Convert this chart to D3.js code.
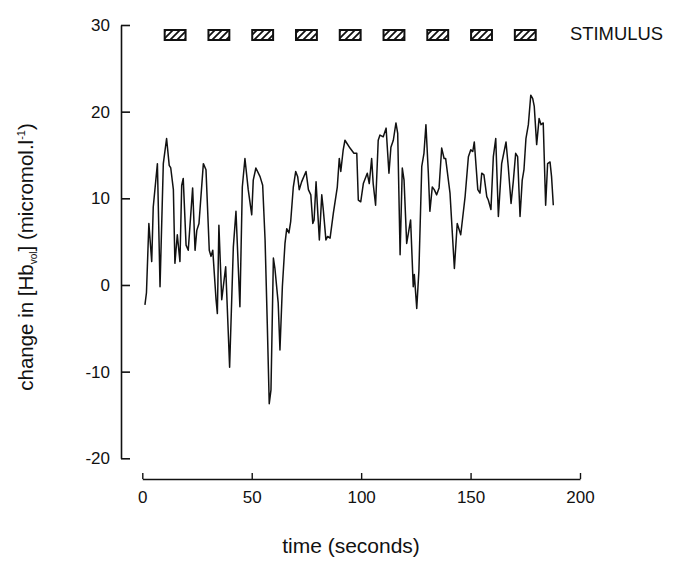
<!DOCTYPE html>
<html>
<head>
<meta charset="utf-8">
<script src="https://cdn.jsdelivr.net/npm/d3@7"></script>
<style>
  html, body { margin: 0; padding: 0; background: #fff; }
  svg { display: block; }
  text { font-family: "Liberation Sans", Arial, sans-serif; fill: #111; }
</style>
</head>
<body>
<svg id="chart" width="685" height="569"></svg>
<script>
// ---- data ----
const times = [1.2, 1.9, 3.0, 4.3, 5.0, 6.9, 8.1, 9.6, 11.1, 12.3, 13.0, 14.2, 14.9, 16.0, 17.2, 18.0, 18.7, 20.0, 21.0, 23.0, 24.1, 24.9, 25.9, 27.9, 29.1, 30.6, 31.4, 32.2, 33.7, 34.3, 35.0, 36.3, 38.1, 39.9, 41.6, 42.8, 44.6, 45.7, 46.9, 48.4, 50.0, 50.7, 51.9, 53.8, 55.0, 56.1, 57.1, 58.0, 58.8, 59.9, 60.6, 62.1, 62.9, 64.0, 65.2, 66.0, 67.0, 67.8, 69.0, 70.1, 71.0, 71.7, 72.8, 74.8, 75.9, 77.0, 77.9, 78.5, 79.4, 80.1, 80.9, 82.0, 82.7, 83.9, 84.7, 85.8, 87.3, 89.1, 90.0, 90.7, 91.8, 92.6, 94.9, 96.7, 98.0, 98.7, 99.8, 101.0, 102.8, 103.7, 104.8, 105.5, 106.6, 107.8, 108.6, 110.1, 111.4, 112.7, 113.6, 114.7, 115.9, 116.7, 117.8, 118.8, 119.6, 120.8, 122.6, 123.8, 124.3, 125.4, 126.4, 127.7, 128.7, 129.6, 130.7, 131.4, 132.5, 133.4, 134.5, 135.6, 136.8, 137.9, 138.6, 140.6, 142.6, 143.9, 145.5, 147.5, 149.0, 150.1, 151.0, 151.7, 153.3, 154.3, 155.1, 156.1, 157.4, 158.1, 159.3, 160.4, 161.5, 162.7, 164.2, 166.2, 167.2, 168.5, 169.5, 170.6, 171.5, 172.6, 173.6, 174.4, 175.3, 176.4, 177.5, 178.4, 179.1, 180.2, 181.3, 182.2, 183.2, 184.3, 185.2, 186.3, 187.0, 187.8];
const hbValues = [-2.3, -0.9, 7.1, 2.7, 9.0, 14.0, -0.2, 14.0, 16.9, 13.8, 13.5, 11.0, 2.5, 5.8, 2.7, 11.5, 12.3, 4.6, 4.0, 11.2, 4.0, 6.3, 7.1, 14.0, 13.3, 4.0, 3.3, 4.0, -1.7, -3.3, 6.9, -1.7, 2.1, -9.5, 4.4, 8.5, -2.5, 11.3, 14.6, 11.0, 8.1, 12.1, 13.5, 12.5, 11.5, 5.2, -4.4, -13.7, -12.1, 3.1, 1.9, -2.1, -7.5, -0.2, 4.8, 6.5, 6.0, 7.3, 11.3, 13.1, 12.5, 11.0, 11.9, 13.1, 11.0, 10.4, 7.1, 7.5, 11.9, 8.7, 5.2, 10.4, 8.7, 5.2, 5.6, 5.4, 8.3, 11.3, 14.6, 13.1, 15.6, 16.7, 15.8, 15.2, 15.2, 9.8, 9.6, 11.7, 12.9, 11.7, 14.6, 11.7, 9.2, 16.7, 17.3, 17.1, 18.1, 12.9, 15.9, 16.7, 18.7, 17.5, 3.5, 13.5, 12.1, 4.8, 7.5, -0.2, 1.2, -2.7, 1.7, 13.7, 15.2, 18.5, 12.9, 8.5, 11.3, 11.0, 10.4, 11.2, 15.8, 14.6, 14.6, 10.6, 1.9, 7.1, 5.8, 10.2, 14.8, 15.6, 15.4, 16.5, 11.0, 10.6, 12.9, 12.7, 10.2, 9.8, 8.7, 14.8, 16.9, 7.9, 14.0, 16.5, 13.7, 9.4, 11.9, 15.2, 14.8, 7.9, 12.1, 13.3, 16.9, 18.5, 21.9, 21.5, 20.6, 16.2, 19.2, 18.5, 18.7, 9.2, 14.0, 14.2, 12.5, 9.2];
const stimulusStarts = [10, 30, 50, 70, 90, 110, 130, 150, 170];
const stimulusEnds   = [20, 40, 60, 80, 100, 120, 140, 160, 180];
const xTicks = [0, 50, 100, 150, 200];
const yTicks = [-20, -10, 0, 10, 20, 30];
const stimulusLabel = "STIMULUS";
const xLabel = "time (seconds)";

// ---- layout ----
const svg = d3.select("#chart");
const x = d3.scaleLinear().domain([0, 200]).range([142.3, 580]);
const y = d3.scaleLinear().domain([-20, 30]).range([458.3, 25]);
const yAxisX = 121;
const xAxisY = 479;
const FONT = "Liberation Sans, Arial, sans-serif";

// hatch pattern
const defs = svg.append("defs");
const pat = defs.append("pattern")
  .attr("id", "hatch").attr("patternUnits", "userSpaceOnUse")
  .attr("width", 7).attr("height", 7);
pat.append("path")
  .attr("d", "M-1,8 L8,-1 M-2,2 L2,-2 M5,9 L9,5")
  .attr("stroke", "#111").attr("stroke-width", 1.8);

// y axis
const yAxis = d3.axisLeft(y).tickValues(yTicks).tickSize(-9).tickSizeOuter(0).tickPadding(11);
const gy = svg.append("g").attr("transform", `translate(${yAxisX},0)`).call(yAxis);
gy.select(".domain").attr("stroke", "#111").attr("stroke-width", 1.6);
gy.selectAll(".tick line").attr("stroke", "#111").attr("stroke-width", 1.6);
gy.selectAll(".tick text").attr("font-size", 17).attr("font-family", FONT).attr("fill", "#111")
  .text(d => d < 0 ? "-" + Math.abs(d) : d);

// x axis
const xAxis = d3.axisBottom(x).tickValues(xTicks).tickSize(-6).tickSizeOuter(0).tickPadding(12);
const gx = svg.append("g").attr("transform", `translate(0,${xAxisY})`).call(xAxis);
gx.select(".domain").attr("stroke", "#111").attr("stroke-width", 1.6);
gx.selectAll(".tick line").attr("stroke", "#111").attr("stroke-width", 1.4);
gx.selectAll(".tick text").attr("font-size", 17).attr("font-family", FONT).attr("fill", "#111");

// axis labels
svg.append("text").attr("x", 351).attr("y", 553).attr("text-anchor", "middle")
  .attr("font-size", 21).text(xLabel);

const yl = svg.append("text")
  .attr("transform", "translate(33,257) rotate(-90)")
  .attr("text-anchor", "middle").attr("font-size", 20.5);
yl.append("tspan").text("change in [Hb");
yl.append("tspan").attr("font-size", 10).attr("dy", 4).text("vol");
yl.append("tspan").attr("dy", -4).text("] (micromol.l");
yl.append("tspan").attr("font-size", 11).attr("dy", -8).text("-1");
yl.append("tspan").attr("dy", 8).text(")");

// stimulus boxes
const stim = stimulusStarts.map((s, i) => ({s, e: stimulusEnds[i]}));
svg.append("g").selectAll("rect").data(stim).join("rect")
  .attr("x", d => x(d.s) + 0.5)
  .attr("y", y(30) + 5)
  .attr("width", d => x(d.e) - x(d.s) - 1)
  .attr("height", 10)
  .attr("fill", "url(#hatch)")
  .attr("stroke", "#111").attr("stroke-width", 2);

svg.append("text").attr("x", 570).attr("y", 40).attr("font-size", 18.4).text(stimulusLabel);

// data line
const pts = times.map((t, i) => [t, hbValues[i]]);
svg.append("path").datum(pts)
  .attr("fill", "none").attr("stroke", "#111").attr("stroke-width", 1.5)
  .attr("stroke-linejoin", "round")
  .attr("d", d3.line().x(d => x(d[0])).y(d => y(d[1])));
</script>
</body>
</html>
